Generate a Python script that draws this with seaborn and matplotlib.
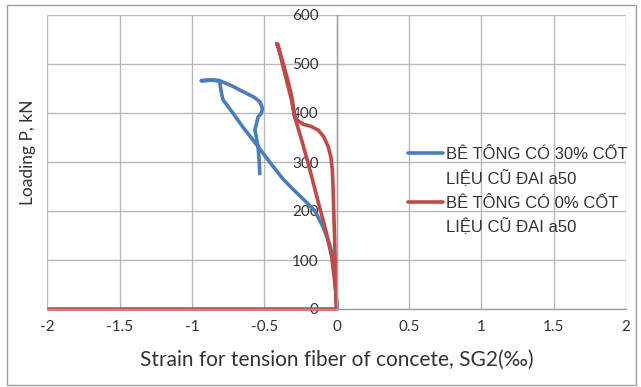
import numpy as np
import pandas as pd
import seaborn as sns
import matplotlib.pyplot as plt
from matplotlib.lines import Line2D
from matplotlib.patches import Rectangle

# ---- data ----
series_names = ["BÊ TÔNG CÓ 30% CỐT\nLIỆU CŨ ĐAI a50", "BÊ TÔNG CÓ 0% CỐT\nLIỆU CŨ ĐAI a50"]

strain_30 = [0.0, -0.005, -0.015, -0.025, -0.046, -0.09, -0.15, -0.22, -0.30, -0.37,
             -0.45, -0.55, -0.65, -0.72, -0.785, -0.79, -0.796, -0.81, -0.87, -0.935,
             -0.87, -0.81, -0.76, -0.715, -0.67, -0.623, -0.57, -0.531, -0.513, -0.52,
             -0.543, -0.565, -0.555, -0.543, -0.535, -0.531]
load_30 = [0, 40, 80, 105, 130, 165, 200, 221, 244, 265,
           295, 334, 372, 401, 427, 433, 440, 466, 467, 466,
           467, 466, 460, 454, 447, 440, 432, 423, 410, 400,
           392, 365, 350, 331, 300, 273]

strain_0 = [0.0, -0.005, -0.01, -0.015, -0.02, -0.025, -0.03, -0.04, -0.058, -0.09,
            -0.127, -0.18, -0.231, -0.27, -0.289, -0.31, -0.34, -0.37, -0.395, -0.415,
            -0.405, -0.375, -0.345, -0.315, -0.29, -0.242, -0.185, -0.12, -0.075, -0.035,
            -0.015, 0.0, 0.0, -2.0]
load_0 = [0, 30, 100, 150, 200, 250, 284, 310, 331, 352,
          365, 373, 377, 385, 392, 433, 470, 501, 525, 542,
          540, 500, 465, 430, 392, 345, 284, 210, 160, 107,
          60, 15, 0, 0]

x_ticks = [-2, -1.5, -1, -0.5, 0, 0.5, 1, 1.5, 2]
x_tick_labels = ["-2", "-1.5", "-1", "-0.5", "0", "0.5", "1", "1.5", "2"]
y_ticks = [0, 100, 200, 300, 400, 500, 600]
y_tick_labels = ["0", "100", "200", "300", "400", "500", "600"]

x_label = "Strain for tension fiber of concete, SG2(‰)"
y_label = "Loading P, kN"

colors = ["#4A7EBB", "#BE4B48"]

df = pd.concat([
    pd.DataFrame({"strain": strain_30, "load": load_30, "series": series_names[0]}),
    pd.DataFrame({"strain": strain_0, "load": load_0, "series": series_names[1]}),
], ignore_index=True)

sns.set_theme(style="white")
plt.rcParams['font.family'] = ['Lato', 'DejaVu Sans']

W, H = 641, 387
fig = plt.figure(figsize=(W / 100, H / 100), dpi=100)
x0, x1, ytop, ybot = 47.3, 626.0, 15.0, 309.0
ax = fig.add_axes([x0 / W, 1 - ybot / H, (x1 - x0) / W, (ybot - ytop) / H])

sns.lineplot(data=df, x="strain", y="load", hue="series", hue_order=series_names,
             palette=colors, sort=False, estimator=None, linewidth=2.6,
             legend=False, ax=ax)
for ln in ax.get_lines():
    ln.set_clip_on(False)
    ln.set_solid_joinstyle("round")
    ln.set_solid_capstyle("butt")

ax.set_xlim(-2, 2)
ax.set_ylim(0, 600)
ax.set_xticks(x_ticks)
ax.set_xticklabels(x_tick_labels)
ax.set_yticks(y_ticks)
ax.set_yticklabels(y_tick_labels)

grid_c = "#B8B8B8"
ax.grid(True, color=grid_c, linewidth=1.0)
ax.set_axisbelow(True)
for s in ["top", "right"]:
    ax.spines[s].set_visible(False)
ax.spines["left"].set_position(("data", 0))
ax.spines["left"].set_color("#A0A0A0")
ax.spines["bottom"].set_color("#A0A0A0")
ax.spines["left"].set_linewidth(1.0)
ax.spines["bottom"].set_linewidth(1.0)

txt_c = "#333333"
ax.tick_params(axis="y", length=0, pad=13, labelsize=11, labelcolor=txt_c)
ax.tick_params(axis="x", length=0, pad=8, labelsize=11, labelcolor=txt_c)

ax.set_xlabel(x_label, fontsize=15, color=txt_c)
ax.set_ylabel(y_label, fontsize=12.5, color=txt_c)
ax.xaxis.set_label_coords(0.5, (ybot - 360) / (ybot - ytop))
ax.xaxis.label.set_va("center")
ax.yaxis.set_label_coords((28 - x0) / (x1 - x0), (ybot - 152) / (ybot - ytop))
ax.yaxis.label.set_va("center")

# legend: handle aligned with first line of each two-line label
handles, labels = [], []
for name, c in zip(series_names, colors):
    first, second = name.split("\n")
    handles.append(Line2D([], [], color=c, linewidth=2.6))
    labels.append(first)
    handles.append(Line2D([], [], color="none", linewidth=0))
    labels.append(second)
leg = fig.legend(handles, labels, loc="upper left",
                 bbox_to_anchor=(408 / W, 1 - 147 / H),
                 frameon=False, borderpad=0, borderaxespad=0,
                 handlelength=2.1, handletextpad=0.2, labelspacing=0.5,
                 prop={"family": ["Liberation Sans", "DejaVu Sans"], "size": 12})
for t in leg.get_texts():
    t.set_color(txt_c)

# outer chart border
fig.patches.append(Rectangle((6.5 / W, 2 / H), (636 - 6.5) / W, (382 - 2) / H,
                             transform=fig.transFigure, fill=False,
                             edgecolor="#A0A0A0", linewidth=1.0))

fig.savefig("out.png", dpi=100)
